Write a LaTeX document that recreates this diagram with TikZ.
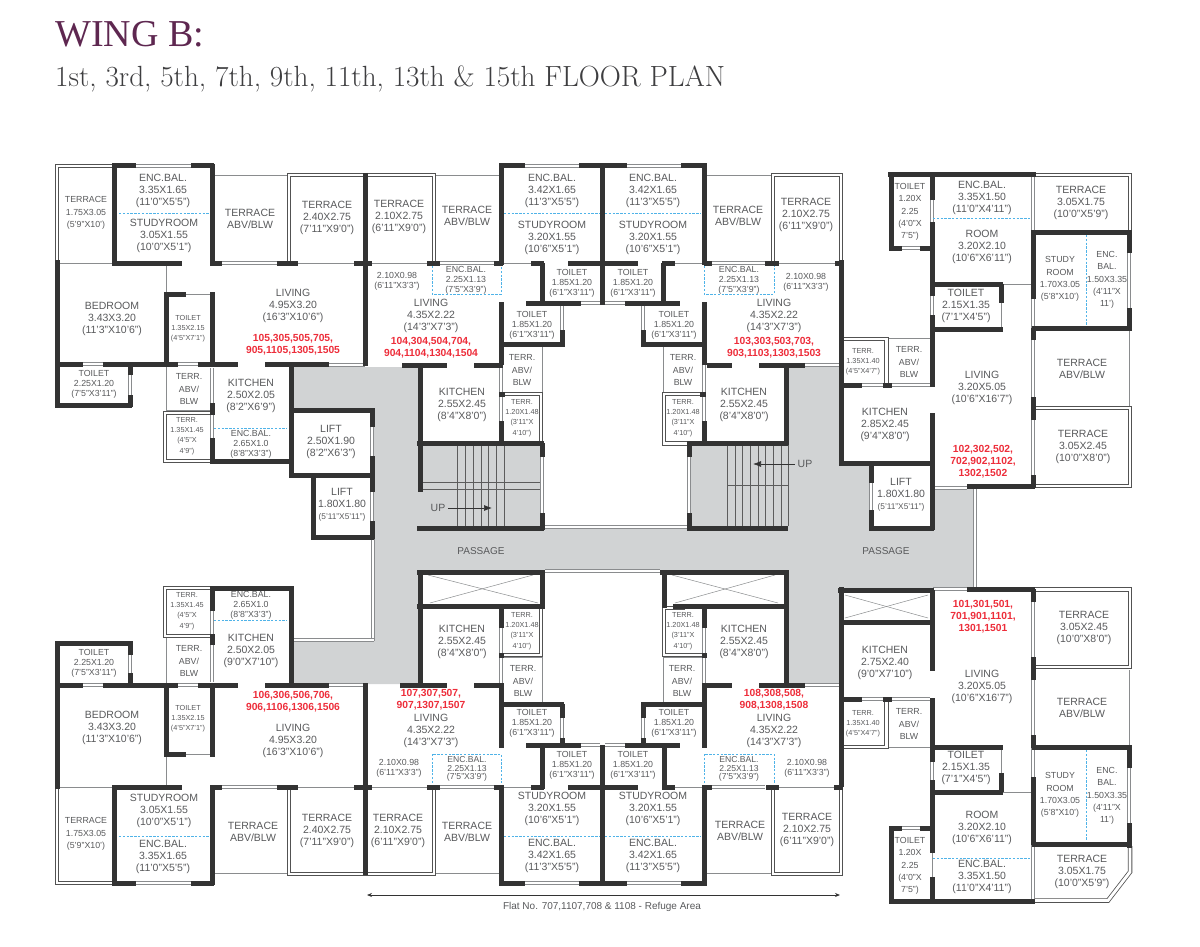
\documentclass[tikz,border=0pt]{standalone}
\usepackage{fontspec}
\setsansfont{Liberation Sans}
\newfontfamily\wingfont{Liberation Serif}
\usetikzlibrary{arrows.meta}
\definecolor{wallc}{HTML}{333333}
\definecolor{thinc}{HTML}{8A8C8E}
\definecolor{textc}{HTML}{58595B}
\definecolor{passc}{HTML}{D1D3D4}
\definecolor{dashc}{HTML}{4FB3E8}
\definecolor{redc}{HTML}{ED2D3A}
\definecolor{wingc}{HTML}{5E2750}
\newcommand{\lowline}[1]{{\fontsize{8.3}{10}\selectfont #1}}
\tikzset{
  wall/.style      = {draw=wallc, line width=5pt},
  thinwall/.style  = {draw=thinc, line width=.8pt},
  treadline/.style = {draw=wallc!80, line width=.6pt},
  crossline/.style = {draw=thinc, line width=.5pt},
  glass/.style     = {draw=thinc, line width=.7pt, double=white, double distance=2.8pt},
  rail/.style      = {draw=wallc!85, line width=.8pt, double=white, double distance=2.9pt, line join=miter},
  encline/.style   = {draw=dashc, line width=.8pt, dash pattern=on 2.4pt off 1.4pt},
  room/.style      = {inner sep=0pt, align=center, text=textc, font=\sffamily\fontsize{10.5}{12.2}\selectfont},
  small/.style     = {room, font=\sffamily\fontsize{8.8}{12.3}\selectfont},
  tight/.style     = {room, font=\sffamily\fontsize{8.8}{10}\selectfont},
  squeezed/.style  = {room, font=\sffamily\fontsize{8.6}{8.4}\selectfont},
  tiny/.style      = {room, font=\sffamily\fontsize{7.3}{10.2}\selectfont},
  flat/.style      = {room, text=redc, font=\sffamily\bfseries\fontsize{10.3}{12}\selectfont},
  stairup/.style   = {draw=wallc, line width=.7pt, shorten <=3pt, -{Latex[length=8pt,width=6pt]}}
}
\begin{document}
\begin{tikzpicture}[x=1pt, y=-1pt]
\useasboundingbox (0,0) rectangle (1200,947);

% title
\node [anchor=base west, inner sep=0pt, text=wingc, font=\wingfont\fontsize{38}{38}\selectfont] (wing) at (55,47) {WING B:};
\node [anchor=base west, inner sep=0pt, text=textc!70!black, font=\rmfamily\fontsize{29.2}{29.2}\selectfont] (floors) at (55,87) {1st, 3rd, 5th, 7th, 9th, 11th, 13th \& 15th FLOOR PLAN};

% passage
\fill [passc] (293,367) -- (420,367) -- (420,445) -- (542,445) -- (542,527) -- (689,527) -- (689,445) -- (786,445)
  -- (786,367) -- (841,367) -- (841,463) -- (871,463) -- (871,530) -- (935,530) -- (935,489) -- (975,489) -- (975,589)
  -- (841,589) -- (841,684) -- (786,684) -- (786,571) -- (420,571) -- (420,684) -- (293,684) -- (293,640) -- (374,640)
  -- (374,410) -- (293,410) -- cycle;

% stairs
\foreach \x in {457.7,465.7,473.3,481,488.7,496.3,504}
    \draw [treadline] (\x,445) -- (\x,526);
\foreach \y in {482,489}
    \draw [treadline] (422,\y) -- (540,\y);
\foreach \x in {727.3,735,742.7,750.3,758,765.7,773.3,781,788}
    \draw [treadline] (\x,445) -- (\x,526);
\draw [treadline] (727,485) -- (788,485);

% shafts
\foreach \xa/\ya/\xb/\yb in {430/603/533/575, 428/575/538/603, 675/603/775/575, 672/575/778/603, 845/595/928/618, 845/618/928/595}
    \draw [crossline] (\xa,\ya) -- (\xb,\yb);

% thin walls
\foreach \xa/\ya/\xb/\yb in {214/175/287/175, 436/175/500/175, 707/175/771/175, 60/263/114/263, 298/263/354/263,
  372/263/427/263, 503/263/531/263, 675/263/704/263, 779/263/835/263, 166/263/166/292, 186/294/212/294,
  166/364/166/410, 166/410/212/410, 542/344/542/392, 503/392/543/392, 663/344/663/392, 663/392/704/392,
  1001/303/1001/328, 1003/284/1032/284, 1129/330/1129/407, 888/338/930/338,
  60/787/114/787, 298/787/354/787, 372/787/427/787, 503/787/531/787, 675/787/704/787, 779/787/835/787,
  214/873/287/873, 436/873/500/873, 707/873/771/873, 166/756/166/787, 186/754/212/754, 166/638/166/685,
  542/657/542/704, 503/657/543/657, 663/657/663/704, 663/657/704/657, 1001/747/1001/773, 1003/792/1032/792,
  1129/670/1129/747, 888/747/930/747, 932/853/932/877}
    \draw [thinwall] (\xa,\ya) -- (\xb,\yb);

% windows
\foreach \xa/\ya/\xb/\yb in {136/166/191/166, 525/166/579/166, 627/166/681/166, 222/263/277/263, 440/263/494/263,
  712/263/765/263, 83/364/103/364, 178/364/198/364, 130/375/130/395, 212/368/212/403, 212/415/212/438,
  372/427/372/456, 372/492/372/521, 581/303/600/303, 605/303/625/303, 562/305/562/330, 643/305/643/330,
  501/365/501/392, 501/396/501/421, 704/365/704/392, 704/396/704/421, 542/457/542/513, 689/457/689/513,
  545/527/687/527, 329/365/365/365, 373/539/373/641, 293/640/374/640, 805/365/841/365,
  1033/177/1033/230, 1033/299/1033/328, 1033/340/1033/397, 1033/420/1033/475, 932/200/932/222, 902/248/920/248,
  932/296/932/315, 1129/253/1129/308, 862/385/883/385, 892/385/930/385, 871/483/871/510, 933/488/967/488,
  975/488/975/589, 933/589/967/589, 1033/602/1033/657, 1033/680/1033/735, 1033/748/1033/777, 1033/845/1033/901,
  862/699/883/699, 892/699/930/699, 932/762/932/780, 902/828/920/828, 1129/768/1129/823,
  545/571/660/571, 501/628/501/653, 501/658/501/683, 704/628/704/653, 704/658/704/683, 562/718/562/738,
  643/718/643/738, 581/745/600/745, 605/745/625/745, 440/787/494/787, 712/787/765/787, 222/787/277/787,
  136/883/191/883, 525/883/579/883, 627/883/681/883, 805/685/841/685, 329/685/365/685, 83/685/103/685,
  178/685/198/685, 130/655/130/673, 212/611/212/634, 212/645/212/682}
    \draw [glass] (\xa,\ya) -- (\xb,\yb);

% terrace railings
\draw [rail] (114,166) -- (57,166) -- (57,262);
\draw [rail] (57,788) -- (57,883) -- (114,883);
\draw [rail] (289,263) -- (289,175) -- (434,175) -- (434,263);
\draw [rail] (289,787) -- (289,874) -- (434,874) -- (434,787);
\draw [rail] (773,263) -- (773,175) -- (841,175) -- (841,263);
\draw [rail] (773,787) -- (773,874) -- (841,874) -- (841,787);
\draw [rail] (212,413) -- (165,413) -- (165,461) -- (212,461);
\draw [rail] (212,588) -- (165,588) -- (165,636) -- (212,636);
\draw [rail] (503,394) -- (541,394) -- (541,443);
\draw [rail] (704,394) -- (664,394) -- (664,443.5) -- (689,443.5);
\draw [rail] (503,655) -- (541,655) -- (541,607);
\draw [rail] (704,655) -- (664,655) -- (664,608) -- (685,608);
\draw [rail] (1036,175) -- (1130,175) -- (1130,232);
\draw [rail] (1035,408) -- (1130,408) -- (1130,486) -- (1035,486);
\draw [rail] (843,339) -- (886.5,339) -- (886.5,385);
\draw [rail] (1035,589.5) -- (1130,589.5) -- (1130,667) -- (1035,667);
\draw [rail] (843,747) -- (886.5,747) -- (886.5,699);
\draw [rail] (1130,846) -- (1130,872) -- (1108,900.5) -- (1035,900.5);

% enclosed balconies
\foreach \xa/\ya/\xb/\yb in {119/213/209/213, 504/213/600/213, 605/213/701/213, 933/218/1030/218, 214/428/287/428,
  214/620/287/620, 119/836/209/836, 504/836/600/836, 605/836/701/836, 933/858/1030/858,
  1086/235/1086/326, 1086/750/1086/841}
    \draw [encline] (\xa,\ya) -- (\xb,\yb);
\foreach \xa/\xb/\ya/\yb in {432/501/266/294, 704/774/266/294, 432/501/783/754, 704/774/783/754}
    \draw [encline] (\xa,\ya) -- (\xa,\yb) -- (\xb,\yb) -- (\xb,\ya);

% walls, upper half
\foreach \xa/\ya/\xb/\yb in {114/164/114/265, 112/166/136/166, 191/166/214/166, 212/164/212/265, 112/263/182/263,
  210/263/222/263, 277/263/298/263, 354/263/372/263, 365/173/365/366, 427/263/440/263, 494/263/503/263,
  531/263/544/263, 568/263/638/263, 662/263/675/263, 704/263/712/263, 765/263/779/263, 835/263/843/263,
  501/164/501/265, 499/166/525/166, 579/166/627/166, 681/166/707/166, 602/164/602/305, 704/164/704/265,
  57/260/57/407, 55/364/83/364, 103/364/178/364, 198/364/238/364, 265/364/329/364, 55/405/132/405,
  130/364/130/375, 130/395/130/407, 166/292/166/364, 164/294/186/294, 212/292/212/364, 212/403/212/415,
  212/438/212/463, 210/461/291/461, 291/362/291/477, 289/410/374/410, 372/408/372/427, 372/456/372/477,
  289/475/374/475, 313/475/313/539, 311/537/374/537, 372/475/372/492, 372/521/372/539,
  402/365/447/365, 474/365/503/365, 501/302/501/365, 526/303/581/303, 625/303/680/303, 542/263/542/305,
  663/263/663/305, 562/330/562/347, 501/344/564/344, 643/330/643/347, 641/344/704/344, 704/302/704/365,
  499/394/505/394, 501/421/501/445, 700/394/706/394, 704/421/704/445, 420/365/420/492, 417/443/544/443,
  542/443/542/457, 542/513/542/530, 417/528/544/528, 707/365/732/365, 759/365/805/365, 786/365/786/445,
  687/443/788/443, 689/443/689/457, 689/513/689/530, 687/528/788/528, 841/260/841/465,
  888/175/1036/175, 891/173/891/251, 889/248/902/248, 920/248/934/248, 932/173/932/200, 932/222/932/296,
  932/315/932/387, 932/413/932/530, 932/284/1003/284, 1001/284/1001/303, 932/329/1003/329, 1033/230/1033/299,
  1033/328/1033/340, 1033/397/1033/420, 1033/475/1033/488, 1032/232/1132/232, 1032/328/1132/328,
  1129/232/1129/253, 1129/308/1129/330, 967/486/1035/486, 843/385/862/385, 883/385/892/385, 839/463/933/463,
  871/463/871/483, 871/510/871/530, 869/528/934/528}
    \draw [wall] (\xa,\ya) -- (\xb,\yb);

% walls, lower half
\foreach \xa/\ya/\xb/\yb in {838/590/934/590, 967/589/1035/589, 841/587/841/787, 932/590/932/671, 841/622/932/622,
  843/699/862/699, 883/699/892/699, 932/698/932/762, 932/780/932/853, 932/877/932/903, 932/747/1003/747,
  1001/773/1001/792, 932/792/1003/792, 1033/589/1033/602, 1033/657/1033/680, 1033/735/1033/748,
  1033/777/1033/845, 1032/747/1132/747, 1032/844/1132/844, 1129/747/1129/768, 1129/823/1129/848,
  889/828/902/828, 920/828/934/828, 891/826/891/903, 889/901/1035/901,
  417/572/545/572, 660/572/788/572, 420/570/420/685, 542/570/542/608, 417/606/545/606, 664/570/664/608,
  786/570/786/687, 673/606/788/606, 501/608/501/628, 501/653/501/658, 501/683/501/748, 400/685/447/685,
  474/685/503/685, 501/704/564/704, 562/704/562/718, 562/738/562/747, 526/745/581/745, 625/745/680/745,
  602/745/602/885, 542/745/542/789, 664/745/664/789, 641/704/704/704, 643/704/643/718, 643/738/643/747,
  704/608/704/628, 704/653/704/658, 704/683/704/748, 706/685/732/685, 759/685/805/685,
  427/787/440/787, 494/787/503/787, 531/787/544/787, 568/787/638/787, 662/787/675/787, 703/787/712/787,
  766/787/779/787, 834/787/843/787, 501/785/501/885, 704/785/704/885, 499/883/525/883, 579/883/627/883,
  681/883/707/883, 212/586/212/611, 212/634/212/645, 210/588/293/588, 291/586/291/687, 55/685/83/685,
  103/685/178/685, 198/685/238/685, 265/685/329/685, 55/643/132/643, 57/641/57/789, 130/641/130/655,
  130/673/130/687, 166/685/166/756, 164/754/186/754, 212/685/212/757, 112/787/182/787, 210/787/222/787,
  277/787/298/787, 354/787/372/787, 365/683/365/875, 114/785/114/885, 212/785/212/885, 112/883/136/883,
  191/883/214/883}
    \draw [wall] (\xa,\ya) -- (\xb,\yb);

% rooms
\foreach \n/\x/\y/\t in {encw/163/191/{ENC.BAL.\\3.35X1.65\\(11'0"X5'5")}, studyw/164/236/{STUDYROOM\\3.05X1.55\\(10'0"X5'1")},
  terrabvw/250/219/{TERRACE\\ABV/BLW}, terrw/327/218/{TERRACE\\2.40X2.75\\(7'11"X9'0")}, terrx/399/217/{TERRACE\\2.10X2.75\\(6'11"X9'0")},
  bedw/112/319/{BEDROOM\\3.43X3.20\\(11'3"X10'6")}, livw/293/306/{LIVING\\4.95X3.20\\(16'3"X10'6")},
  kitw/251/396/{KITCHEN\\2.50X2.05\\(8'2"X6'9")}, liftw/331/442/{LIFT\\2.50X1.90\\(8'2"X6'3")},
  liftx/342/505/{LIFT\\1.80X1.80\\\lowline{(5'11"X5'11")}}, livx/431/316/{LIVING\\4.35X2.22\\(14'3"X7'3")},
  terrabvx/467/216/{TERRACE\\ABV/BLW}, encx/552/191/{ENC.BAL.\\3.42X1.65\\(11'3"X5'5")}, studyx/552/238/{STUDYROOM\\3.20X1.55\\(10'6"X5'1")},
  ency/653/191/{ENC.BAL.\\3.42X1.65\\(11'3"X5'5")}, studyy/653/238/{STUDYROOM\\3.20X1.55\\(10'6"X5'1")},
  terrabvy/738/216/{TERRACE\\ABV/BLW}, terry/806/215/{TERRACE\\2.10X2.75\\(6'11"X9'0")},
  kitx/462/405/{KITCHEN\\2.55X2.45\\(8'4"X8'0")}, kity/744/405/{KITCHEN\\2.55X2.45\\(8'4"X8'0")}, livy/774/316/{LIVING\\4.35X2.22\\(14'3"X7'3")},
  ence/982/198/{ENC.BAL.\\3.35X1.50\\(11'0"X4'11")}, rme/982/247/{ROOM\\3.20X2.10\\(10'6"X6'11")}, terre/1081/203/{TERRACE\\3.05X1.75\\(10'0"X5'9")},
  toile/966/306/{TOILET\\2.15X1.35\\(7'1"X4'5")}, terrabve/1082/369/{TERRACE\\ABV/BLW}, terrf/1083/447/{TERRACE\\3.05X2.45\\(10'0"X8'0")},
  live/982/388/{LIVING\\3.20X5.05\\(10'6"X16'7")}, kite/885/425/{KITCHEN\\2.85X2.45\\(9'4"X8'0")}, lifte/901/495/{LIFT\\1.80X1.80\\\lowline{(5'11"X5'11")}},
  livf/982/687/{LIVING\\3.20X5.05\\(10'6"X16'7")}, kitf/885/663/{KITCHEN\\2.75X2.40\\(9'0"X7'10")}, toilf/966/768/{TOILET\\2.15X1.35\\(7'1"X4'5")},
  rmf/982/828/{ROOM\\3.20X2.10\\(10'6"X6'11")}, encf/982/877/{ENC.BAL.\\3.35X1.50\\(11'0"X4'11")}, terrg/1082/872/{TERRACE\\3.05X1.75\\(10'0"X5'9")},
  terrabvf/1082/708/{TERRACE\\ABV/BLW}, terrh/1084/628/{TERRACE\\3.05X2.45\\(10'0"X8'0")},
  encs/163/857/{ENC.BAL.\\3.35X1.65\\(11'0"X5'5")}, studys/164/811/{STUDYROOM\\3.05X1.55\\(10'0"X5'1")}, kits/251/651/{KITCHEN\\2.50X2.05\\(9'0"X7'10")},
  beds/112/728/{BEDROOM\\3.43X3.20\\(11'3"X10'6")}, livs/293/741/{LIVING\\4.95X3.20\\(16'3"X10'6")}, terrabvs/253/832/{TERRACE\\ABV/BLW},
  terrs/327/831/{TERRACE\\2.40X2.75\\(7'11"X9'0")}, terrt/398/831/{TERRACE\\2.10X2.75\\(6'11"X9'0")}, livt/431/731/{LIVING\\4.35X2.22\\(14'3"X7'3")},
  terrabvt/467/832/{TERRACE\\ABV/BLW}, studyt/552/809/{STUDYROOM\\3.20X1.55\\(10'6"X5'1")}, enct/552/856/{ENC.BAL.\\3.42X1.65\\(11'3"X5'5")},
  studyu/653/809/{STUDYROOM\\3.20X1.55\\(10'6"X5'1")}, encu/653/856/{ENC.BAL.\\3.42X1.65\\(11'3"X5'5")}, kitt/462/642/{KITCHEN\\2.55X2.45\\(8'4"X8'0")},
  kitu/744/642/{KITCHEN\\2.55X2.45\\(8'4"X8'0")}, livu/774/731/{LIVING\\4.35X2.22\\(14'3"X7'3")}, terrabvu/740/831/{TERRACE\\ABV/BLW},
  terru/807/830/{TERRACE\\2.10X2.75\\(6'11"X9'0")}}
    \node [room] (\n) at (\x,\y) {\t};

\foreach \n/\x/\y/\t in {terrw1/86/213/{TERRACE\\1.75X3.05\\(5'9"X10')}, terrabvw1/189/389/{TERR.\\ABV/\\BLW}, terrabvx1/522/370/{TERR.\\ABV/\\BLW},
  terrabvy1/683/370/{TERR.\\ABV/\\BLW}, toile1/910/212/{TOILET\\1.20X\\2.25\\(4'0"X\\7'5")}, stde/1060/279/{STUDY\\ROOM\\1.70X3.05\\(5'8"X10')},
  bale/1107/280/{ENC.\\BAL.\\1.50X3.35\\(4'11"X\\11')}, terrabve1/909/362/{TERR.\\ABV/\\BLW}, terrabvf1/909/724/{TERR.\\ABV/\\BLW},
  toilf1/910/866/{TOILET\\1.20X\\2.25\\(4'0"X\\7'5")}, stdf/1060/795/{STUDY\\ROOM\\1.70X3.05\\(5'8"X10')}, balf/1107/796/{ENC.\\BAL.\\1.50X3.35\\(4'11"X\\11')},
  terrabvs1/189/661/{TERR.\\ABV/\\BLW}, terrs1/86/834/{TERRACE\\1.75X3.05\\(5'9"X10')}, terrabvt1/523/681/{TERR.\\ABV/\\BLW}, terrabvu1/682/681/{TERR.\\ABV/\\BLW}}
    \node [small] (\n) at (\x,\y) {\t};

\foreach \n/\x/\y/\t in {toilw/94/384/{TOILET\\2.25X1.20\\(7'5"X3'11")}, encw1/251/444/{ENC.BAL.\\2.65X1.0\\(8'8"X3'3")}, wide/397/281/{2.10X0.98\\(6'11"X3'3")},
  encx1/466/280/{ENC.BAL.\\2.25X1.13\\(7'5"X3'9")}, toilx/572/283/{TOILET\\1.85X1.20\\(6'1"X3'11")}, toily/633/283/{TOILET\\1.85X1.20\\(6'1"X3'11")},
  toilx1/532/325/{TOILET\\1.85X1.20\\(6'1"X3'11")}, toily1/674/325/{TOILET\\1.85X1.20\\(6'1"X3'11")}, ency1/739/280/{ENC.BAL.\\2.25X1.13\\(7'5"X3'9")},
  widf/806/282/{2.10X0.98\\(6'11"X3'3")}, toils/94/663/{TOILET\\2.25X1.20\\(7'5"X3'11")}, encs1/251/605/{ENC.BAL.\\2.65X1.0\\(8'8"X3'3")},
  wids/399/768/{2.10X0.98\\(6'11"X3'3")}, toilt/532/723/{TOILET\\1.85X1.20\\(6'1"X3'11")},
  toilu/674/723/{TOILET\\1.85X1.20\\(6'1"X3'11")}, toilt1/572/765/{TOILET\\1.85X1.20\\(6'1"X3'11")}, toilu1/633/765/{TOILET\\1.85X1.20\\(6'1"X3'11")},
  widu/807/768/{2.10X0.98\\(6'11"X3'3")}}
    \node [tight] (\n) at (\x,\y) {\t};

\foreach \n/\x/\y/\t in {enct1/467/769/{ENC.BAL.\\2.25X1.13\\(7'5"X3'9")}, encu1/739/769/{ENC.BAL.\\2.25X1.13\\(7'5"X3'9")}}
    \node [squeezed] (\n) at (\x,\y) {\t};

\foreach \n/\x/\y/\t in {toilw1/188/329/{TOILET\\1.35X2.15\\(4'5"X7'1")}, terrw2/187/436/{TERR.\\1.35X1.45\\(4'5"X\\4'9")}, terrx2/522/418/{TERR.\\1.20X1.48\\(3'11"X\\4'10")},
  terry2/683/418/{TERR.\\1.20X1.48\\(3'11"X\\4'10")}, terre2/863/362/{TERR.\\1.35X1.40\\(4'5"X4'7")}, terrf2/863/724/{TERR.\\1.35X1.40\\(4'5"X4'7")},
  terrs2/187/611/{TERR.\\1.35X1.45\\(4'5"X\\4'9")}, toils1/188/719/{TOILET\\1.35X2.15\\(4'5"X7'1")}, terrt2/522/631/{TERR.\\1.20X1.48\\(3'11"X\\4'10")},
  terru2/683/631/{TERR.\\1.20X1.48\\(3'11"X\\4'10")}}
    \node [tiny] (\n) at (\x,\y) {\t};

% flat numbers
\foreach \n/\x/\y/\t in {flatw/293/345/{105,305,505,705,\\905,1105,1305,1505}, flatx/431/348/{104,304,504,704,\\904,1104,1304,1504},
  flaty/774/348/{103,303,503,703,\\903,1103,1303,1503}, flate/983/462/{102,302,502,\\702,902,1102,\\1302,1502},
  flatf/983/617/{101,301,501,\\701,901,1101,\\1301,1501}, flats/293/702/{106,306,506,706,\\906,1106,1306,1506},
  flatt/431/700/{107,307,507,\\907,1307,1507}, flatu/774/700/{108,308,508,\\908,1308,1508}}
    \node [flat] (\n) at (\x,\y) {\t};

% passage and stairs labels
\node [room, font=\sffamily\fontsize{10}{12}\selectfont] (passw) at (481,551) {PASSAGE};
\node [room, font=\sffamily\fontsize{10}{12}\selectfont] (passe) at (886,551) {PASSAGE};
\node [room] (upw) at (438,508) {UP};
\node [room] (upe) at (805,464) {UP};
\coordinate (upwend) at (492,508);
\coordinate (upeend) at (753,464);
\draw [stairup] (upw) -- (upwend);
\draw [stairup] (upe) -- (upeend);

% refuge area
\coordinate (refa) at (367,895);
\coordinate (refb) at (840,895);
\draw [thinwall, draw=wallc, {Stealth[length=5pt,width=4pt]}-{Stealth[length=5pt,width=4pt]}] (refa) -- (refb);
\node [room, font=\sffamily\fontsize{10}{12}\selectfont] (refuge) at (602,907) {Flat No. 707,1107,708 \& 1108 - Refuge Area};
\end{tikzpicture}
\end{document}
